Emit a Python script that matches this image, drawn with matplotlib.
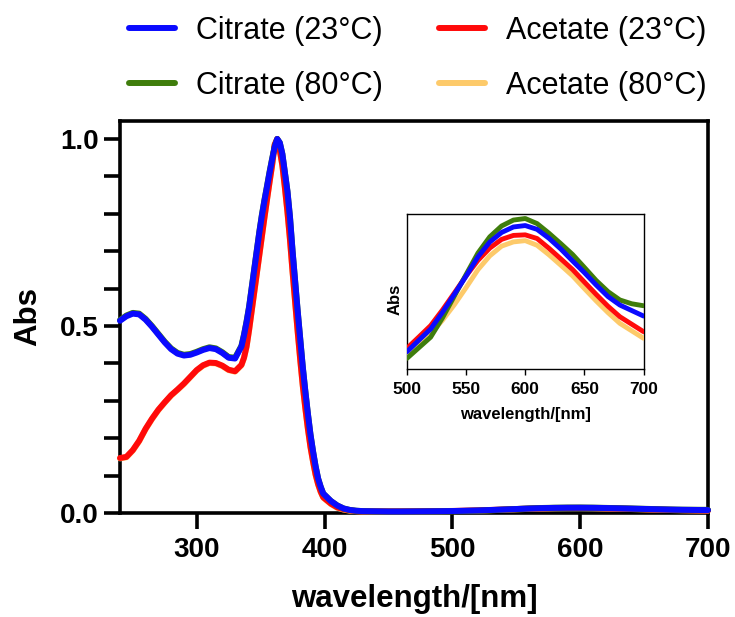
import matplotlib
matplotlib.use("Agg")
import matplotlib.pyplot as plt

plt.rcParams["font.family"] = ["Liberation Sans", "DejaVu Sans"]

# Wavelength grid (nm): coarse in the UV shoulders, fine across the 363 nm band,
# 10 nm steps through the weak visible band.
wavelength = [240, 245, 250, 255, 260, 265, 270, 275, 280, 285, 290, 295, 300,
              305, 310, 315, 320, 325, 330, 335, 337, 339, 341, 343, 345, 347,
              349, 351, 353, 355, 357, 359, 361, 363, 365, 367, 369, 371, 373,
              375, 377, 379, 381, 383, 385, 387, 389, 391, 393, 395, 397, 399,
              405, 410, 415, 420, 425, 430, 440, 450, 460, 470, 480, 490,
              500, 510, 520, 530, 540, 550, 560, 570, 580, 590, 600, 610, 620,
              630, 640, 650, 660, 670, 680, 690, 700]

citrate_23 = [0.514, 0.526, 0.533, 0.531, 0.517, 0.498, 0.477, 0.456, 0.438,
              0.426, 0.421, 0.423, 0.429, 0.436, 0.441, 0.438, 0.428, 0.415,
              0.413, 0.445, 0.475, 0.510, 0.550, 0.600, 0.650, 0.700, 0.750,
              0.795, 0.835, 0.872, 0.910, 0.945, 0.978, 1.000, 0.990, 0.960,
              0.910, 0.860, 0.790, 0.700, 0.620, 0.540, 0.465, 0.390, 0.325,
              0.265, 0.210, 0.165, 0.125, 0.092, 0.070, 0.052,
              0.032, 0.020, 0.012, 0.008, 0.006, 0.005, 0.0045, 0.0040, 0.0040,
              0.0042, 0.0045, 0.0048,
              0.00523, 0.00604, 0.00684, 0.00802, 0.00930, 0.01060, 0.01196,
              0.01301, 0.01369, 0.01408, 0.01418, 0.01391, 0.01328, 0.01252,
              0.01167, 0.01084, 0.00996, 0.00914, 0.00854, 0.00815, 0.00776]

citrate_80 = [0.516, 0.528, 0.535, 0.533, 0.519, 0.500, 0.479, 0.458, 0.440,
              0.428, 0.423, 0.425, 0.431, 0.438, 0.443, 0.440, 0.430, 0.417,
              0.415, 0.447, 0.477, 0.512, 0.552, 0.602, 0.652, 0.702, 0.752,
              0.797, 0.837, 0.874, 0.912, 0.947, 0.980, 1.000, 0.990, 0.960,
              0.910, 0.860, 0.790, 0.700, 0.620, 0.540, 0.465, 0.390, 0.325,
              0.265, 0.210, 0.165, 0.125, 0.092, 0.070, 0.052,
              0.032, 0.020, 0.012, 0.008, 0.006, 0.005, 0.0040, 0.0037, 0.0037,
              0.0039, 0.0042, 0.0045,
              0.00476, 0.00551, 0.00626, 0.00763, 0.00917, 0.01071, 0.01223,
              0.01338, 0.01415, 0.01457, 0.01468, 0.01432, 0.01364, 0.01290,
              0.01213, 0.01121, 0.01028, 0.00949, 0.00890, 0.00863, 0.00849]

acetate_23 = [0.147, 0.150, 0.168, 0.193, 0.225, 0.252, 0.276, 0.296, 0.315,
              0.330, 0.346, 0.364, 0.382, 0.395, 0.402, 0.401, 0.394, 0.383,
              0.379, 0.396, 0.415, 0.445, 0.490, 0.540, 0.590, 0.640, 0.690,
              0.740, 0.790, 0.838, 0.885, 0.930, 0.985, 1.000, 0.970, 0.930,
              0.870, 0.805, 0.730, 0.645, 0.565, 0.485, 0.410, 0.340, 0.280,
              0.225, 0.177, 0.138, 0.103, 0.077, 0.057, 0.042,
              0.025, 0.015, 0.010, 0.007, 0.005, 0.0045, 0.0045, 0.0043, 0.0044,
              0.0046, 0.0050, 0.0052,
              0.00547, 0.00627, 0.00708, 0.00819, 0.00939, 0.01061, 0.01171,
              0.01258, 0.01320, 0.01348, 0.01352, 0.01326, 0.01257, 0.01182,
              0.01106, 0.01017, 0.00929, 0.00845, 0.00771, 0.00718, 0.00665]

acetate_80 = [0.146, 0.149, 0.167, 0.192, 0.224, 0.251, 0.275, 0.295, 0.314,
              0.329, 0.345, 0.363, 0.381, 0.394, 0.401, 0.400, 0.393, 0.382,
              0.378, 0.395, 0.414, 0.444, 0.489, 0.539, 0.589, 0.639, 0.689,
              0.739, 0.789, 0.837, 0.884, 0.929, 0.984, 1.000, 0.969, 0.929,
              0.869, 0.804, 0.729, 0.644, 0.564, 0.484, 0.409, 0.339, 0.279,
              0.224, 0.176, 0.137, 0.102, 0.076, 0.056, 0.041,
              0.024, 0.014, 0.009, 0.006, 0.005, 0.0042, 0.0040, 0.0039, 0.0040,
              0.0042, 0.0045, 0.0047,
              0.00499, 0.00575, 0.00650, 0.00746, 0.00856, 0.00978, 0.01105,
              0.01203, 0.01272, 0.01302, 0.01311, 0.01278, 0.01211, 0.01137,
              0.01061, 0.00971, 0.00883, 0.00800, 0.00724, 0.00671, 0.00618]

# Legend is filled column by column: Citrate in the first column, Acetate in the second
legend_order = ["Citrate (23°C)", "Citrate (80°C)", "Acetate (23°C)", "Acetate (80°C)"]
colors = {"Citrate (23°C)": "#0a0aff", "Acetate (23°C)": "#ff0a0a",
          "Citrate (80°C)": "#3f7d0c", "Acetate (80°C)": "#fdca6a"}
series = {"Citrate (23°C)": citrate_23, "Acetate (23°C)": acetate_23,
          "Citrate (80°C)": citrate_80, "Acetate (80°C)": acetate_80}
draw_order = ["Acetate (80°C)", "Acetate (23°C)", "Citrate (80°C)", "Citrate (23°C)"]

main_xticks = [300, 400, 500, 600, 700]
main_yticks = [0.0, 0.5, 1.0]
inset_xticks = [500, 550, 600, 650, 700]

fig = plt.figure(figsize=(7.35, 6.17), dpi=100)
ax = fig.add_axes([120 / 735, 1 - 513 / 617, 588 / 735, 392 / 617])

handles = {}
for name in draw_order:
    ln, = ax.plot(wavelength, series[name], color=colors[name], lw=4.3,
                  solid_capstyle="round", solid_joinstyle="round",
                  clip_on=False, zorder=3)
    handles[name] = ln

ax.set_xlim(240, 700)
ax.set_ylim(0, 1.048)
ax.set_xticks(main_xticks)
ax.set_yticks(main_yticks)
ax.set_yticklabels([f"{v:.1f}" for v in main_yticks])
ax.set_yticks([0.1, 0.2, 0.3, 0.4, 0.6, 0.7, 0.8, 0.9], minor=True)
for sp in ax.spines.values():
    sp.set_linewidth(2.6)
ax.tick_params(axis="both", which="both", direction="out", length=11.5, width=2.6)
ax.tick_params(axis="x", labelsize=20, pad=6)
ax.tick_params(axis="y", labelsize=20, pad=4)
for lab in ax.get_xticklabels() + ax.get_yticklabels():
    lab.set_fontweight("bold")
ax.set_xlabel("wavelength/[nm]", fontsize=22.5, fontweight="bold", labelpad=15)
ax.set_ylabel("Abs", fontsize=22.5, fontweight="bold", labelpad=12)

# Inset: enlarged view of the weak visible band
ins = fig.add_axes([407 / 735, 1 - 369 / 617, 236.5 / 735, 155 / 617])
for name in draw_order:
    ins.plot(wavelength, series[name], color=colors[name], lw=3.5,
             solid_capstyle="round", solid_joinstyle="round", zorder=3)
ins.set_xlim(500, 700)
ins.set_ylim(0.004, 0.015)
ins.set_xticks(inset_xticks)
ins.set_yticks([])
for sp in ins.spines.values():
    sp.set_linewidth(1.0)
ins.tick_params(axis="x", direction="out", length=4.5, width=1.0, labelsize=12.5, pad=5)
for lab in ins.get_xticklabels():
    lab.set_fontweight("bold")
ins.set_xlabel("wavelength/[nm]", fontsize=12, fontweight="bold", labelpad=7)
ins.set_ylabel("Abs", fontsize=12, fontweight="bold")
ins.yaxis.set_label_coords(-0.017, 0.45)

fig.legend([handles[n] for n in legend_order], legend_order, ncol=2, frameon=False,
           loc="upper left", bbox_to_anchor=(129 / 735, 1 - 16 / 617),
           fontsize=22, handlelength=1.5, handletextpad=0.7,
           columnspacing=1.83, labelspacing=0.82, borderpad=0, borderaxespad=0)

fig.savefig("out.png", dpi=100)
